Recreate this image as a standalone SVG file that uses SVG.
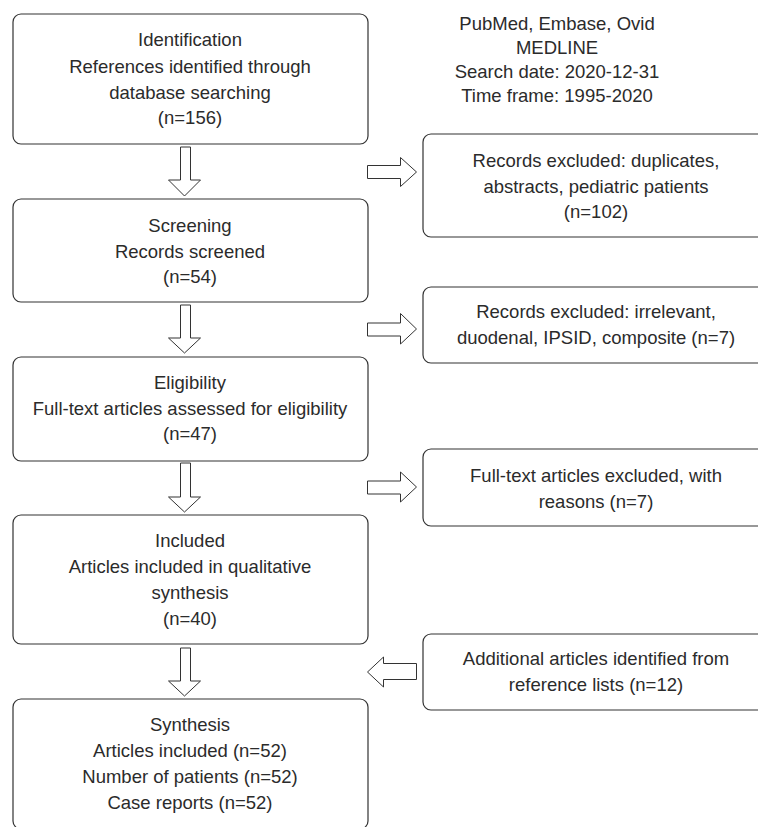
<svg xmlns="http://www.w3.org/2000/svg" width="758" height="827" viewBox="0 0 758 827">
<style>
.box{fill:#fff;stroke:#333;stroke-width:1.2}
.arr{fill:#fff;stroke:#333;stroke-width:1}
text{font-family:"Liberation Sans",Arial,Helvetica,sans-serif;font-size:18.5px;fill:#2b2b2b;text-anchor:middle}
</style>
<rect width="758" height="827" fill="#fff"/>
<g id="note">
<text x="557" y="30">PubMed, Embase, Ovid</text>
<text x="557" y="54">MEDLINE</text>
<text x="557" y="78">Search date: 2020-12-31</text>
<text x="557" y="102">Time frame: 1995-2020</text>
</g>
<g id="identification">
<rect class="box" x="13" y="14" width="355" height="130" rx="8"/>
<text x="190" y="46">Identification</text>
<text x="190" y="73">References identified through</text>
<text x="190" y="99">database searching</text>
<text x="190" y="124">(n=156)</text>
</g>
<g id="screening">
<rect class="box" x="13" y="199" width="355" height="103" rx="8"/>
<text x="190" y="232">Screening</text>
<text x="190" y="258">Records screened</text>
<text x="190" y="283">(n=54)</text>
</g>
<g id="eligibility">
<rect class="box" x="13" y="357" width="355" height="104" rx="8"/>
<text x="190" y="389">Eligibility</text>
<text x="190" y="415">Full-text articles assessed for eligibility</text>
<text x="190" y="440">(n=47)</text>
</g>
<g id="included">
<rect class="box" x="13" y="515" width="355" height="129" rx="8"/>
<text x="190" y="547">Included</text>
<text x="190" y="573">Articles included in qualitative</text>
<text x="190" y="599">synthesis</text>
<text x="190" y="625">(n=40)</text>
</g>
<g id="synthesis">
<rect class="box" x="13" y="699" width="355" height="130" rx="8"/>
<text x="190" y="731">Synthesis</text>
<text x="190" y="757">Articles included (n=52)</text>
<text x="190" y="783">Number of patients (n=52)</text>
<text x="190" y="809">Case reports (n=52)</text>
</g>
<g id="excluded1">
<rect class="box" x="423" y="134" width="346" height="103" rx="8"/>
<text x="596" y="167">Records excluded: duplicates,</text>
<text x="596" y="193">abstracts, pediatric patients</text>
<text x="596" y="218">(n=102)</text>
</g>
<g id="excluded2">
<rect class="box" x="423" y="287" width="346" height="76" rx="8"/>
<text x="596" y="318">Records excluded: irrelevant,</text>
<text x="596" y="344">duodenal, IPSID, composite (n=7)</text>
</g>
<g id="excluded3">
<rect class="box" x="423" y="449" width="346" height="77" rx="8"/>
<text x="596" y="482">Full-text articles excluded, with</text>
<text x="596" y="508">reasons (n=7)</text>
</g>
<g id="additional">
<rect class="box" x="423" y="634" width="346" height="76" rx="8"/>
<text x="596" y="665">Additional articles identified from</text>
<text x="596" y="691">reference lists (n=12)</text>
</g>
<g id="connectors">
<polygon class="arr" points="180.5,147 190.5,147 190.5,180 200.5,180 184.5,196 168.5,180 180.5,180"/>
<polygon class="arr" points="180.5,305 190.5,305 190.5,338 200.5,338 184.5,353 168.5,338 180.5,338"/>
<polygon class="arr" points="180.5,463 190.5,463 190.5,497 200.5,497 184.5,512 168.5,497 180.5,497"/>
<polygon class="arr" points="180.5,648 190.5,648 190.5,681 200.5,681 184.5,696 168.5,681 180.5,681"/>
<polygon class="arr" points="367.5,165.5 400.5,165.5 400.5,157.5 416.5,172 400.5,186.5 400.5,178.5 367.5,178.5"/>
<polygon class="arr" points="367.5,323 400.5,323 400.5,313.5 416.5,329 400.5,344 400.5,336 367.5,336"/>
<polygon class="arr" points="367.5,481 400.5,481 400.5,472 416.5,487 400.5,502 400.5,494 367.5,494"/>
<polygon class="arr" points="416.5,663.5 383.5,663.5 383.5,657 367.5,672 383.5,687 383.5,679.5 416.5,679.5"/>
</g>
</svg>
